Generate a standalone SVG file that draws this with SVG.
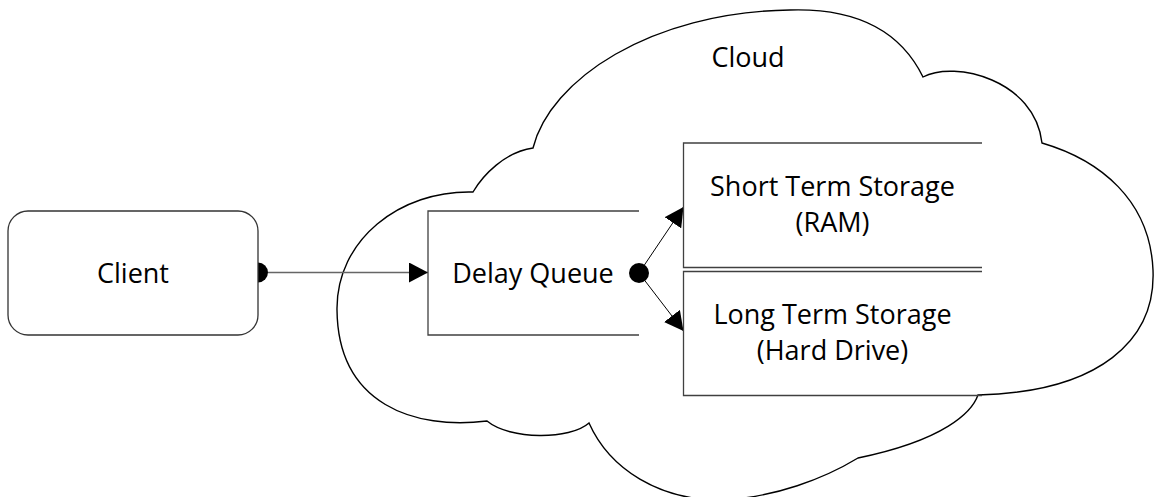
<svg xmlns="http://www.w3.org/2000/svg" width="1154" height="497" viewBox="0 0 1154 497">
  <style>
    .label { font-family: "Open Sans", "Liberation Sans", sans-serif; font-size: 27px; fill: #000; text-anchor: middle; }
    .outline { fill: #fff; stroke: #000; stroke-width: 1.4; }
    .store { fill: none; stroke: #404040; stroke-width: 1.3; }
    .wire { fill: none; stroke: #000; stroke-width: 1; }
    .wire-gray { fill: none; stroke: #666; stroke-width: 1.4; }
  </style>
  <defs>
    <marker id="arrow" viewBox="0 0 19 20" refX="19" refY="10" markerWidth="19" markerHeight="20" markerUnits="userSpaceOnUse" orient="auto">
      <path d="M0,0 L19,10 L0,20 Z" fill="#000"/>
    </marker>
  </defs>

  <!-- cloud boundary, drawn as eight lobes -->
  <g id="cloud">
    <path class="outline" d="M473,192
      C483,175 505,152 533,148
      C550,80 650,12 790,10
      C855,8 900,30 923,77
      C955,60 1035,80 1042,143
      C1100,160 1150,200 1153,270
      C1156,340 1100,392 978,395
      C972,412 945,440 858,458
      C825,478 775,498 720,500
      C660,500 610,470 589,423
      C570,440 510,440 487,421
      C415,430 338,405 337,310
      C336,240 400,190 473,192 Z"/>
    <text class="label" x="748" y="67">Cloud</text>
  </g>

  <!-- connectors -->
  <g id="connectors">
    <path class="wire-gray" d="M268,272.5 H428" marker-end="url(#arrow)"/>
    <path d="M258,262.5 A10,10 0 0 1 258,282.5 Z" fill="#000"/>
    <path class="wire" d="M639,273 L683.5,207" marker-end="url(#arrow)"/>
    <path class="wire" d="M639,273 L683.5,331" marker-end="url(#arrow)"/>
    <circle cx="639" cy="273" r="10" fill="#000"/>
  </g>

  <g id="client">
    <rect x="8" y="211" width="250" height="124" rx="20" ry="20" fill="#fff" stroke="#333" stroke-width="1.3"/>
    <text class="label" x="133" y="283">Client</text>
  </g>

  <g id="delay-queue">
    <path class="store" d="M639,211 H428 V335 H639"/>
    <text class="label" x="533" y="282.5">Delay Queue</text>
  </g>

  <g id="short-term-storage">
    <path class="store" d="M982,143 H683.5 V267.5 H982"/>
    <text class="label" x="832.5" y="196">Short Term Storage</text>
    <text class="label" x="832.5" y="232">(RAM)</text>
  </g>

  <g id="long-term-storage">
    <path class="store" d="M982,271.5 H683.5 V395.5 H982"/>
    <text class="label" x="832.5" y="324">Long Term Storage</text>
    <text class="label" x="832.5" y="360">(Hard Drive)</text>
  </g>
</svg>
